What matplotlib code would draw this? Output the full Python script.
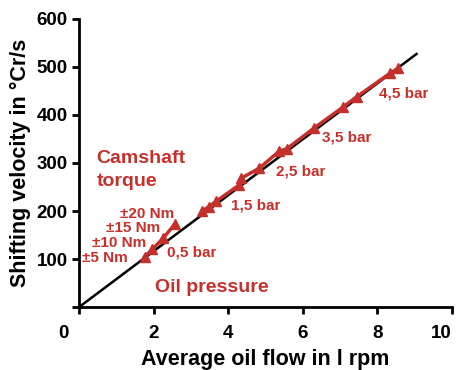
import matplotlib
matplotlib.use("Agg")
import matplotlib.pyplot as plt

plt.rcParams['font.family'] = ['Liberation Sans', 'DejaVu Sans']
plt.rcParams['font.weight'] = 'bold'

RED = '#C4302B'

# reference line
ref_x = [0.0, 9.05]
ref_y = [0.0, 527.0]

# camshaft torque series
torque_x = [1.76, 1.96, 2.25, 2.56]
torque_y = [105, 120, 143, 172]
torque_labels = ['±5 Nm', '±10 Nm', '±15 Nm', '±20 Nm']
torque_lab_x = [0.07, 0.36, 0.71, 1.09]
torque_lab_y = [102, 133, 164, 194]

# oil pressure series
press_x = [3.30, 3.48, 3.67, 4.29, 4.34, 4.83, 5.36, 5.58, 6.29, 7.09, 7.45, 8.34, 8.56]
press_y = [200, 209, 220, 254, 268, 289, 324, 330, 372, 417, 438, 487, 497]
press_labels = ['0,5 bar', '1,5 bar', '2,5 bar', '3,5 bar', '4,5 bar']
press_lab_x = [2.36, 4.07, 5.27, 6.51, 8.04]
press_lab_y = [114, 212, 283, 353, 444]

x_ticks = [0, 2, 4, 6, 8, 10]
y_ticks = [0, 100, 200, 300, 400, 500, 600]

fig = plt.figure(figsize=(4.57, 3.70), dpi=100)
ax = fig.add_axes([0.173, 0.170, 0.816, 0.779])

ax.plot(ref_x, ref_y, color='black', lw=1.8, zorder=2)
ax.plot(torque_x, torque_y, color=RED, lw=2.5, marker='^', ms=7, zorder=3)
ax.plot(press_x, press_y, color=RED, lw=2.5, marker='^', ms=7, zorder=3)

for t, x, y in zip(torque_labels, torque_lab_x, torque_lab_y):
    ax.text(x, y, t, color=RED, fontsize=11, fontweight='bold', va='center', ha='left')
for t, x, y in zip(press_labels, press_lab_x, press_lab_y):
    ax.text(x, y, t, color=RED, fontsize=11, fontweight='bold', va='center', ha='left')

ax.text(0.47, 327, 'Camshaft\ntorque', color=RED, fontsize=14, fontweight='bold',
        va='top', ha='left', linespacing=1.45)
ax.text(2.03, 31, 'Oil pressure', color=RED, fontsize=14, fontweight='bold',
        va='baseline', ha='left')

ax.set_xlim(0, 10)
ax.set_ylim(0, 600)
ax.set_xticks(x_ticks)
ax.set_yticks(y_ticks)
ax.set_xticklabels([''] + [str(v) for v in x_ticks[1:]])
ax.set_yticklabels([''] + [str(v) for v in y_ticks[1:]])
ax.spines['top'].set_visible(False)
ax.spines['right'].set_visible(False)
for s in ['left', 'bottom']:
    ax.spines[s].set_linewidth(2)
ax.tick_params(direction='out', width=2, length=5, labelsize=13.5)
ax.tick_params(axis='x', pad=8)
ax.tick_params(axis='y', pad=3)
for lab in ax.get_xticklabels() + ax.get_yticklabels():
    lab.set_fontweight('bold')
ax.get_xticklabels()[-1].set_horizontalalignment('right')

# origin label, shifted left of the axis corner
ax.annotate(str(x_ticks[0]), xy=(x_ticks[0], 0), xycoords=('data', 'axes fraction'),
            xytext=(-11, -13), textcoords='offset points', ha='center', va='top',
            fontsize=13.5, fontweight='bold')

ax.set_xlabel('Average oil flow in l rpm', fontsize=15.5, fontweight='bold', labelpad=5)
ax.set_ylabel('Shifting velocity in °Cr/s', fontsize=15.5, fontweight='bold', labelpad=4)

fig.savefig('out.png', dpi=100)
